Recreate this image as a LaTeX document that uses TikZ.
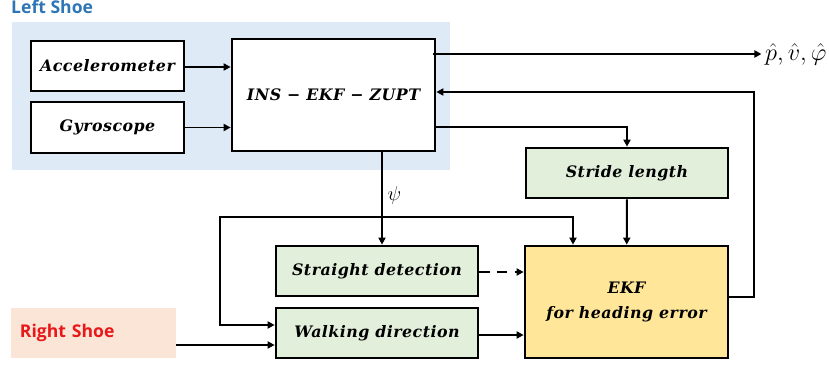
\documentclass[tikz,border=0pt]{standalone}
\usepackage{fontspec}
\usepackage{amsmath}
\usetikzlibrary{arrows.meta,positioning}
\newfontfamily\shoefont{Open Sans}
\newfontfamily\blkfont[LetterSpace=3]{DejaVu Serif}
\definecolor{shoeblue}{HTML}{2E75B6}
\definecolor{shoered}{HTML}{E8191A}
\definecolor{bgblue}{HTML}{DEEBF7}
\definecolor{bgpeach}{HTML}{FBE5D6}
\definecolor{boxgreen}{HTML}{E2EFDA}
\definecolor{boxyellow}{HTML}{FFE699}
\tikzset{
  blk/.style={draw, line width=2.3pt, inner sep=0pt, font=\blkfont\bfseries\itshape\fontsize{13.5}{16}\selectfont},
  shoe/.style={font=\shoefont\bfseries\fontsize{15}{18}\selectfont},
  arr/.style={->, line width=1.7pt}
}

\begin{document}
\begin{tikzpicture}[x=0.03cm, y=-0.03cm, >={Triangle[length=6pt,width=6pt]}]
\useasboundingbox (0,0) rectangle (829,365);
\fill[bgblue] (12,22) rectangle (450,170);
\node[shoe, text=shoeblue, anchor=base west, inner sep=0pt] (lshoe) at (11,13) {Left Shoe};
%
\node[blk, fill=white, minimum width=4.59cm, minimum height=1.5cm] (acc) at (107.5,66) {Accelerometer};
\node[blk, fill=white, minimum width=4.59cm, minimum height=1.53cm] (gyro) at (107.5,127.5) {Gyroscope};
\node[blk, fill=white, minimum width=6.09cm, minimum height=3.36cm] (ins) at (333.5,95) {INS − EKF − ZUPT};
\node[blk, fill=boxgreen, minimum width=6.06cm, minimum height=1.5cm] (stride) at (627,173) {Stride length};
\node[blk, fill=boxyellow, minimum width=6.09cm, minimum height=3.36cm, align=center] (ekf) at (626.5,302)
  {EKF\\[6pt]for heading error};
\node[blk, fill=boxgreen, minimum width=6.06cm, minimum height=1.5cm] (straight) at (377,271) {Straight detection};
\node[blk, fill=boxgreen, minimum width=6.06cm, minimum height=1.5cm] (walk) at (377,333) {Walking direction};
\node[shoe, text=shoered, fill=bgpeach, minimum width=4.95cm, minimum height=1.5cm,
  inner xsep=0.27cm, text width=4.41cm, align=left] (rshoe) at (93.5,333) {Right Shoe};
\node[font=\fontsize{21}{24}\selectfont, anchor=west, inner sep=0pt] (pv) at (765,54) {$\hat{p},\hat{v},\hat{\varphi}$};
%
\draw[arr] (acc.east |- 0,67) -- (ins.west |- 0,67);
\draw[arr] (gyro) -- (gyro -| ins.west);
\draw[arr] ([xshift=-3pt]ins.east |- pv.west) -- ([xshift=-3pt]pv.west);
\draw[arr] (ekf.east |- 0,297) -| (754,92) -- (ins.east |- 0,92);
\draw[arr] (ins.east |- 0,127) -| (stride.north);
\draw[arr] (stride) -- (ekf);
\draw[arr] (ins.south -| 382,0) -- (straight.north -| 382,0)
  node[pos=0.47, right, inner sep=4pt, font=\fontsize{18}{20}\selectfont] {$\psi$};
\draw[arr, dashed, dash pattern=on 9pt off 6pt] (straight.east |- 0,272) -- (ekf.west |- 0,272);
\draw[arr] (walk.east |- 0,335) -- (ekf.west |- 0,335);
\draw[arr] (rshoe.east |- 0,345) -- (walk.west |- 0,345);
\draw[arr, <->] (ekf.north -| 573,0) |- (220,217) |- (walk.west |- 0,325);
\end{tikzpicture}
\end{document}
